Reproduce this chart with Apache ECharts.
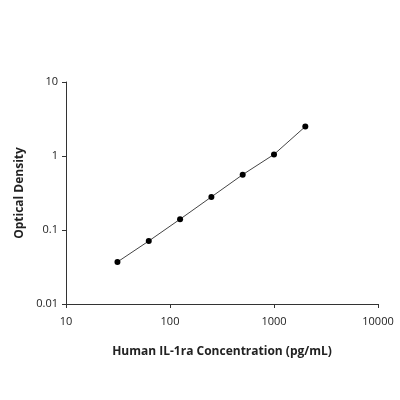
<!DOCTYPE html><html><head><meta charset="utf-8">
<script src="https://cdn.jsdelivr.net/npm/echarts@6/dist/echarts.min.js"></script>
<style>html,body{margin:0;background:#fff}#c{width:400px;height:400px}</style></head><body><div id="c"></div>
<script>
const concentrations=[31.25,62.5,125,250,500,1000,2000];
const od=[0.037,0.071,0.14,0.28,0.56,1.05,2.5];
const pts=concentrations.map((c,i)=>[c,od[i]]);
const chart=echarts.init(document.getElementById('c'));
const lab={color:'#222',fontSize:11,fontFamily:'Open Sans'};
chart.setOption({
 animation:false,
 grid:{left:66,right:22,top:82,bottom:96},
 xAxis:{type:'log',min:10,max:10000,logBase:10,name:'Human IL-1ra Concentration (pg/mL)',nameLocation:'middle',nameGap:42,
  nameTextStyle:{fontWeight:'bold',fontSize:12,color:'#222',fontFamily:'Open Sans'},
  axisLine:{lineStyle:{color:'#333'}},axisTick:{inside:false,length:4,lineStyle:{color:'#333'}},splitLine:{show:false},
  axisLabel:Object.assign({margin:12,formatter:v=>String(Math.round(v))},lab)},
 yAxis:{type:'log',min:0.01,max:10,logBase:10,name:'Optical Density',nameLocation:'middle',nameGap:38,
  nameTextStyle:{fontWeight:'bold',fontSize:12,color:'#222',fontFamily:'Open Sans'},
  axisLine:{show:true,lineStyle:{color:'#333'}},axisTick:{show:true,length:4,lineStyle:{color:'#333'}},splitLine:{show:false},
  axisLabel:Object.assign({formatter:v=>String(+v.toPrecision(3))},lab)},
 series:[{type:'line',data:pts,symbol:'circle',symbolSize:6,itemStyle:{color:'#000'},lineStyle:{color:'#444',width:1}}]
});
</script></body></html>
